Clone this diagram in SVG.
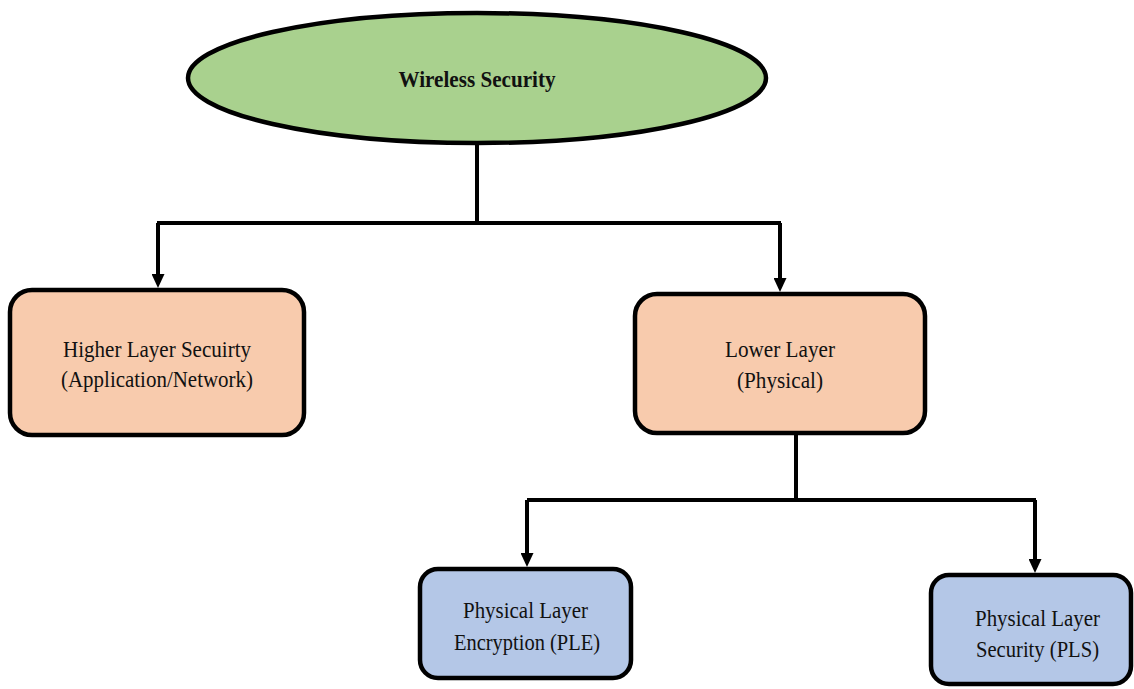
<svg xmlns="http://www.w3.org/2000/svg" width="1134" height="689" viewBox="0 0 1134 689">
  <style>
    .box { stroke: #000; stroke-width: 4.5; }
    .root { fill: #a9d18e; }
    .mid { fill: #f8cbad; }
    .leaf { fill: #b4c7e7; }
    .lbl { font-family: "Liberation Serif", "Times New Roman", serif; font-size: 24px; fill: #111; text-anchor: middle; }
    .title { font-weight: bold; }
    .wire { fill: none; stroke: #000; stroke-width: 4; }
  </style>
  <defs>
    <marker id="arrow" markerUnits="userSpaceOnUse" markerWidth="14" markerHeight="13" viewBox="0 0 14 13" refX="6" refY="6.5" orient="auto">
      <path d="M0,0 L14,6.5 L0,13 z" fill="#000"/>
    </marker>
  </defs>
  <rect width="1134" height="689" fill="#fff"/>

  <!-- connectors -->
  <g id="connectors">
    <path class="wire" d="M477,144 V223 M157,223 H781"/>
    <path class="wire" d="M158,223 V280" marker-end="url(#arrow)"/>
    <path class="wire" d="M780,223 V284" marker-end="url(#arrow)"/>
    <path class="wire" d="M796,435 V500 M527,500 H1036"/>
    <path class="wire" d="M527,500 V559" marker-end="url(#arrow)"/>
    <path class="wire" d="M1035,500 V565" marker-end="url(#arrow)"/>
  </g>

  <g id="wireless-security">
    <ellipse class="box root" cx="477" cy="78" rx="289" ry="65"/>
    <text class="lbl title" x="477" y="87" textLength="157" lengthAdjust="spacingAndGlyphs">Wireless Security</text>
  </g>

  <g id="higher-layer">
    <rect class="box mid" x="10" y="290" width="294" height="145" rx="22"/>
    <text class="lbl" x="157" y="357" textLength="188" lengthAdjust="spacingAndGlyphs">Higher Layer Secuirty</text>
    <text class="lbl" x="157" y="387" textLength="192" lengthAdjust="spacingAndGlyphs">(Application/Network)</text>
  </g>

  <g id="lower-layer">
    <rect class="box mid" x="635" y="294" width="290" height="139" rx="22"/>
    <text class="lbl" x="780" y="357" textLength="110" lengthAdjust="spacingAndGlyphs">Lower Layer</text>
    <text class="lbl" x="780" y="388" textLength="86" lengthAdjust="spacingAndGlyphs">(Physical)</text>
  </g>

  <g id="ple">
    <rect class="box leaf" x="420" y="569" width="211" height="109" rx="18"/>
    <text class="lbl" x="525.5" y="618" textLength="125" lengthAdjust="spacingAndGlyphs">Physical Layer</text>
    <text class="lbl" x="527" y="650" textLength="146" lengthAdjust="spacingAndGlyphs">Encryption (PLE)</text>
  </g>

  <g id="pls">
    <rect class="box leaf" x="931" y="575" width="200" height="109" rx="18"/>
    <text class="lbl" x="1037.5" y="626" textLength="125" lengthAdjust="spacingAndGlyphs">Physical Layer</text>
    <text class="lbl" x="1037.5" y="657" textLength="123" lengthAdjust="spacingAndGlyphs">Security (PLS)</text>
  </g>
</svg>
